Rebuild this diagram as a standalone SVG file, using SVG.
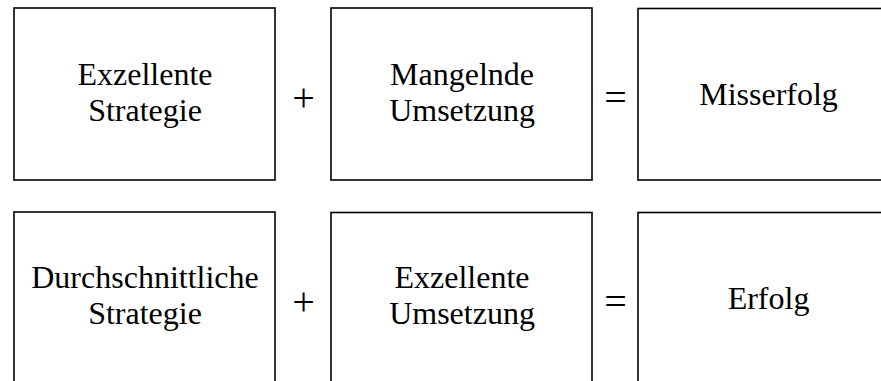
<svg xmlns="http://www.w3.org/2000/svg" width="881" height="381" viewBox="0 0 881 381">
<style>
.box{fill:#fff;stroke:#000;stroke-width:1.6}
.t{font-family:"Liberation Serif","Times New Roman",serif;font-size:32px;fill:#000;text-anchor:middle}
.op{font-family:"Liberation Serif","Times New Roman",serif;font-size:40px;fill:#000;text-anchor:middle}
</style>
<rect width="881" height="381" fill="#fff"/>
<g id="n1"><rect class="box" x="14" y="8" width="261" height="172"/><text class="t" x="145" y="85">Exzellente</text><text class="t" x="145" y="121">Strategie</text></g>
<g id="n2"><rect class="box" x="331" y="8" width="261" height="172"/><text class="t" x="462" y="85">Mangelnde</text><text class="t" x="462" y="121">Umsetzung</text></g>
<g id="n3"><rect class="box" x="638" y="8.5" width="261" height="171.5"/><text class="t" x="768.5" y="105">Misserfolg</text></g>
<g id="n4"><rect class="box" x="14" y="212" width="261" height="200"/><text class="t" x="145" y="288">Durchschnittliche</text><text class="t" x="145" y="324">Strategie</text></g>
<g id="n5"><rect class="box" x="331" y="212.5" width="261" height="200"/><text class="t" x="462" y="288">Exzellente</text><text class="t" x="462" y="324">Umsetzung</text></g>
<g id="n6"><rect class="box" x="638" y="212.5" width="261" height="200"/><text class="t" x="768.5" y="309">Erfolg</text></g>
<g id="connectors">
<text class="op" x="303.5" y="111">+</text>
<text class="op" x="615.5" y="111">=</text>
<text class="op" x="303.5" y="315">+</text>
<text class="op" x="615.5" y="315">=</text>
</g>
</svg>
